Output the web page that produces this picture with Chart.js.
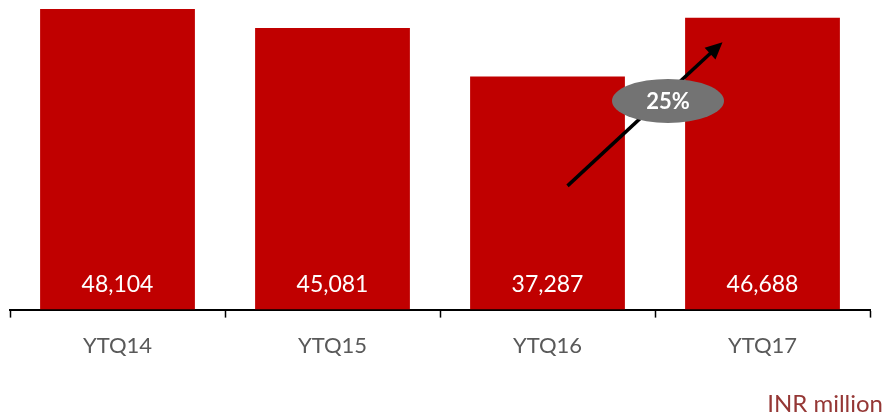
<!DOCTYPE html>
<html>
<head>
<meta charset="utf-8">
<script src="https://cdn.jsdelivr.net/npm/chart.js@4.4.0/dist/chart.umd.min.js"></script>
<style>
    html, body { margin: 0; padding: 0; background: #fff; }
    #wrap { position: relative; width: 886px; height: 416px; }
    #unit {
        position: absolute; right: 3px; top: 388px;
        font: 24px Lato, "Open Sans", sans-serif; color: #953735;
    }
</style>
</head>
<body>
<div id="wrap">
    <canvas id="revChart" width="886" height="416"></canvas>
    <div id="unit">INR million</div>
</div>
<script>
const periods = ['YTQ14', 'YTQ15', 'YTQ16', 'YTQ17'];
const revenue = [48104, 45081, 37287, 46688];

// white value labels near the foot of each bar
const valueLabels = {
    id: 'valueLabels',
    afterDatasetsDraw(chart) {
        const ctx = chart.ctx;
        const meta = chart.getDatasetMeta(0);
        ctx.save();
        ctx.fillStyle = '#ffffff';
        ctx.font = '23px Lato, "Open Sans", sans-serif';
        ctx.textAlign = 'center';
        ctx.textBaseline = 'middle';
        meta.data.forEach((bar, i) => {
            ctx.fillText(revenue[i].toLocaleString('en-US'), bar.x, chart.chartArea.bottom - 25);
        });
        ctx.restore();
    }
};

// growth arrow from the last-but-one bar to the last one, with a badge
const growthArrow = {
    id: 'growthArrow',
    afterDraw(chart) {
        const ctx = chart.ctx;
        const x = chart.scales.x, y = chart.scales.y;
        const x0 = x.getPixelForValue(2) + 20, y0 = y.getPixelForValue(19800);
        const x1 = x.getPixelForValue(3) - 40, y1 = y.getPixelForValue(42800);
        const ang = Math.atan2(y1 - y0, x1 - x0);
        ctx.save();
        ctx.strokeStyle = '#000';
        ctx.fillStyle = '#000';
        ctx.lineWidth = 3.5;
        ctx.beginPath();
        ctx.moveTo(x0, y0);
        ctx.lineTo(x1 - 12 * Math.cos(ang), y1 - 12 * Math.sin(ang));
        ctx.stroke();
        ctx.beginPath();
        ctx.moveTo(x1, y1);
        ctx.lineTo(x1 - 17 * Math.cos(ang) + 8 * Math.sin(ang), y1 - 17 * Math.sin(ang) - 8 * Math.cos(ang));
        ctx.lineTo(x1 - 17 * Math.cos(ang) - 8 * Math.sin(ang), y1 - 17 * Math.sin(ang) + 8 * Math.cos(ang));
        ctx.closePath();
        ctx.fill();

        const cx = (x.getPixelForValue(2) + x.getPixelForValue(3)) / 2 + 13;
        const cy = y.getPixelForValue(33400);
        ctx.fillStyle = '#737373';
        ctx.beginPath();
        ctx.ellipse(cx, cy, 56, 22, 0, 0, Math.PI * 2);
        ctx.fill();
        const growth = Math.round((revenue[3] - revenue[2]) / revenue[2] * 100);
        ctx.fillStyle = '#fff';
        ctx.font = 'bold 22px Lato, "Open Sans", sans-serif';
        ctx.textAlign = 'center';
        ctx.textBaseline = 'middle';
        ctx.fillText(growth + '%', cx, cy + 1);
        ctx.restore();
    }
};

new Chart(document.getElementById('revChart'), {
    type: 'bar',
    data: {
        labels: periods,
        datasets: [{
            data: revenue,
            backgroundColor: '#C00000',
            borderWidth: 0,
            categoryPercentage: 1,
            barPercentage: 0.72
        }]
    },
    options: {
        responsive: false,
        animation: false,
        layout: { padding: { left: 10, right: 16, top: 0, bottom: 42 } },
        plugins: { legend: { display: false }, tooltip: { enabled: false } },
        scales: {
            x: {
                grid: { display: true, drawOnChartArea: false, tickLength: 8, tickColor: '#000', tickWidth: 1.5 },
                border: { color: '#000', width: 2 },
                ticks: { color: '#595959', font: { family: 'Lato, "Open Sans", sans-serif', size: 22 }, padding: 15 }
            },
            y: {
                display: false,
                min: 0,
                max: 49542
            }
        }
    },
    plugins: [valueLabels, growthArrow]
});
</script>
</body>
</html>
